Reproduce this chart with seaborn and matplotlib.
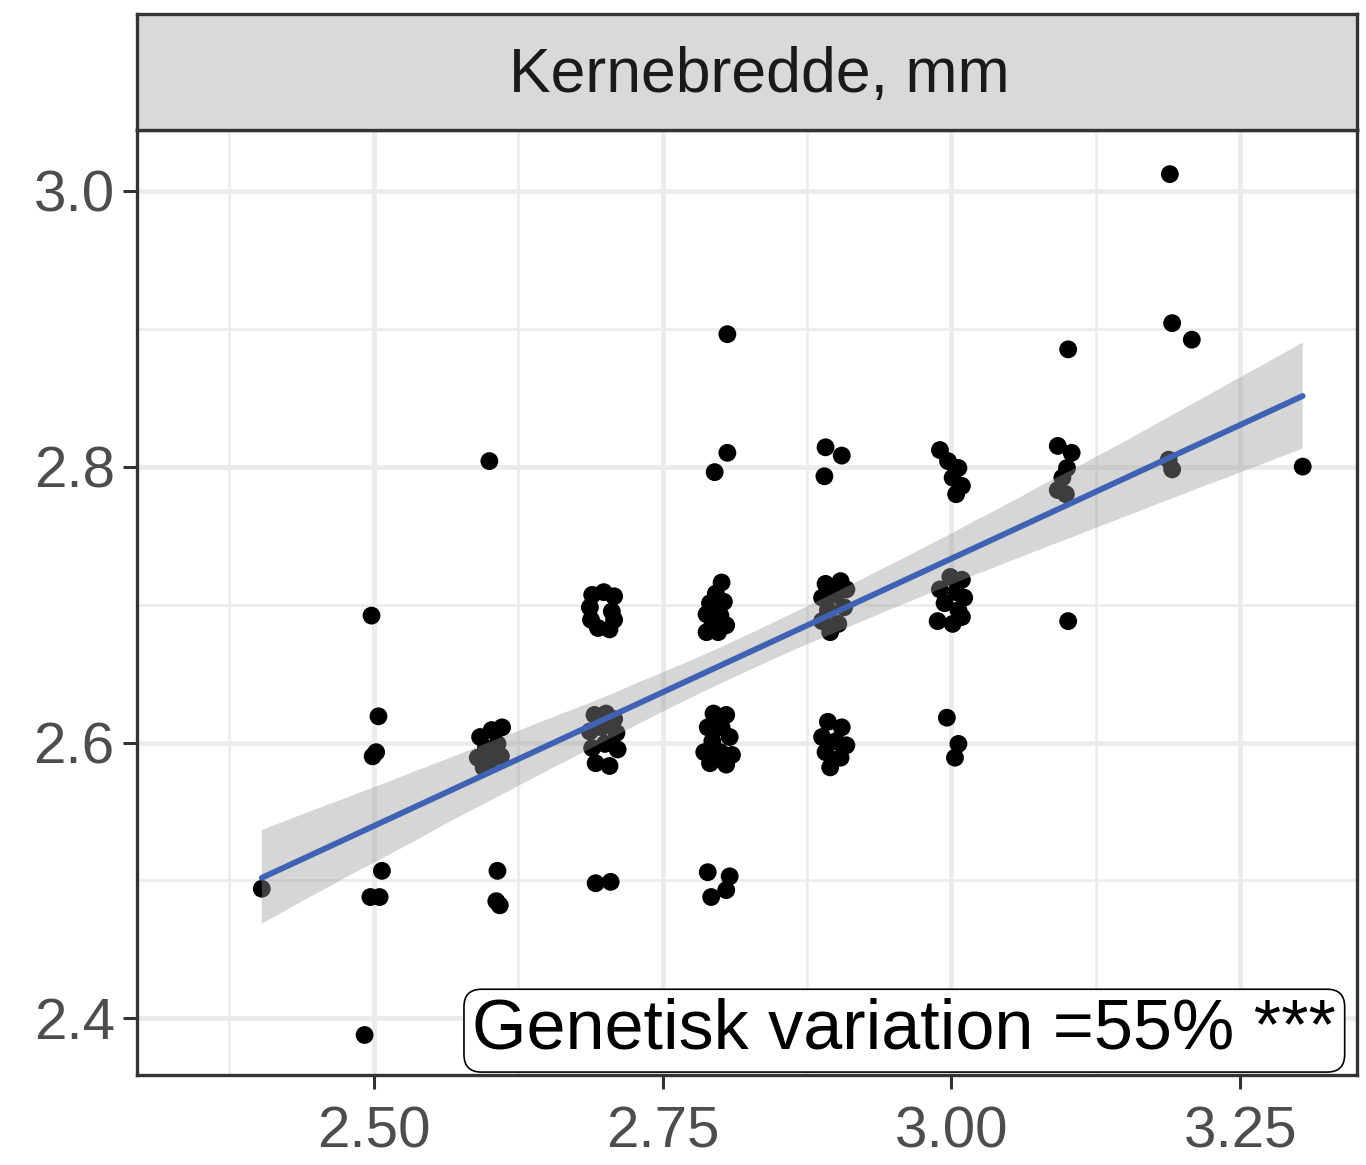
import numpy as np
import pandas as pd
import seaborn as sns
import matplotlib.pyplot as plt

sns.set_theme(style="white")
plt.rcParams['font.family'] = ['Liberation Sans', 'DejaVu Sans']

x_2_4 = [2.403]
y_2_4 = [2.494]

x_2_5 = [2.498, 2.504, 2.502, 2.499, 2.507, 2.497, 2.505, 2.492]
y_2_5 = [2.692, 2.619, 2.593, 2.590, 2.507, 2.488, 2.488, 2.388]

x_2_6 = [2.600, 2.592, 2.602, 2.611, 2.597, 2.607, 2.590, 2.600, 2.610, 2.595,
         2.607, 2.606, 2.609]
y_2_6 = [2.804, 2.604, 2.609, 2.611, 2.596, 2.599, 2.589, 2.586, 2.590, 2.582,
         2.507, 2.485, 2.482]

x_2_7 = [2.689, 2.699, 2.708, 2.687, 2.706, 2.688, 2.694, 2.704, 2.708,
         2.691, 2.701, 2.708, 2.687, 2.697, 2.710, 2.689, 2.700, 2.711, 2.692, 2.704,
         2.692, 2.705]
y_2_7 = [2.707, 2.709, 2.706, 2.698, 2.695, 2.689, 2.683, 2.682, 2.689,
         2.620, 2.621, 2.617, 2.608, 2.611, 2.607, 2.596, 2.599, 2.595, 2.585, 2.583,
         2.498, 2.499]

x_2_8 = [2.806, 2.806, 2.795,
         2.801, 2.796, 2.791, 2.803, 2.788, 2.800, 2.793, 2.805, 2.788, 2.798,
         2.794, 2.805, 2.789, 2.801, 2.808, 2.793, 2.786, 2.800, 2.810, 2.791, 2.805,
         2.789, 2.808, 2.792, 2.805]
y_2_8 = [2.896, 2.810, 2.796,
         2.716, 2.708, 2.701, 2.702, 2.693, 2.692, 2.685, 2.685, 2.680, 2.680,
         2.621, 2.620, 2.611, 2.611, 2.604, 2.601, 2.593, 2.593, 2.591, 2.585, 2.584,
         2.506, 2.503, 2.488, 2.493]

x_2_9 = [2.891, 2.905, 2.890,
         2.891, 2.904, 2.909, 2.888, 2.900, 2.893, 2.907, 2.888, 2.902, 2.895,
         2.893, 2.905, 2.888, 2.900, 2.909, 2.891, 2.904, 2.895]
y_2_9 = [2.814, 2.808, 2.793,
         2.715, 2.717, 2.711, 2.705, 2.707, 2.696, 2.698, 2.688, 2.686, 2.680,
         2.615, 2.611, 2.604, 2.601, 2.598, 2.593, 2.589, 2.582]

x_3_0 = [2.990, 2.997, 3.006, 3.001, 3.009, 3.004,
         2.999, 3.009, 2.990, 3.004, 3.011, 2.994, 3.006, 2.988, 3.001, 3.009,
         2.996, 3.006, 3.003]
y_3_0 = [2.812, 2.804, 2.799, 2.792, 2.786, 2.780,
         2.720, 2.718, 2.711, 2.709, 2.705, 2.701, 2.696, 2.688, 2.686, 2.691,
         2.618, 2.599, 2.589]

x_3_1 = [3.101, 3.092, 3.104, 3.100, 3.096, 3.092, 3.099, 3.101]
y_3_1 = [2.885, 2.815, 2.810, 2.799, 2.792, 2.783, 2.780, 2.688]

x_3_2 = [3.189, 3.191, 3.208, 3.188, 3.191]
y_3_2 = [3.012, 2.904, 2.892, 2.805, 2.798]

x_3_3 = [3.304]
y_3_3 = [2.800]

strip_title = "Kernebredde, mm"
label_text = "Genetisk variation =55% ***"
x_ticks = [2.50, 2.75, 3.00, 3.25]
x_tick_labels = ["2.50", "2.75", "3.00", "3.25"]
y_ticks = [2.4, 2.6, 2.8, 3.0]
y_tick_labels = ["2.4", "2.6", "2.8", "3.0"]

xs = x_2_4 + x_2_5 + x_2_6 + x_2_7 + x_2_8 + x_2_9 + x_3_0 + x_3_1 + x_3_2 + x_3_3
ys = y_2_4 + y_2_5 + y_2_6 + y_2_7 + y_2_8 + y_2_9 + y_3_0 + y_3_1 + y_3_2 + y_3_3
df = pd.DataFrame({"x": xs, "y": ys})

W, H = 1366, 1165
fig = plt.figure(figsize=(W / 100, H / 100), dpi=100)
ax = fig.add_axes([137 / W, 1 - 1075 / H, 1220 / W, 945 / H])
strip = fig.add_axes([137 / W, 1 - 130 / H, 1220 / W, 116 / H])

# points first, smoother + band on top (ggplot order)
sns.scatterplot(data=df, x="x", y="y", color="black", s=165, edgecolor="none",
                ax=ax, zorder=2, legend=False)
sns.regplot(data=df, x="x", y="y", scatter=False, ax=ax, seed=3, n_boot=2000,
            color="#3f62b5", line_kws=dict(color="#3f62b5", lw=4.2, zorder=4))
band = ax.collections[-1]
band.set_facecolor("#999999")
band.set_alpha(0.4)
band.set_edgecolor("none")
band.set_zorder(3)

ax.set_xlim(2.295, 3.351)
ax.set_ylim(2.359, 3.044)
ax.set_xticks(x_ticks)
ax.set_xticklabels(x_tick_labels)
ax.set_yticks(y_ticks)
ax.set_yticklabels(y_tick_labels)
ax.set_xticks([2.375, 2.625, 2.875, 3.125], minor=True)
ax.set_yticks([2.5, 2.7, 2.9], minor=True)
ax.set_axisbelow(True)
ax.grid(which="major", color="#EBEBEB", lw=3.4)
ax.grid(which="minor", color="#EBEBEB", lw=1.8)
ax.tick_params(which="major", length=10, width=2.2, color="#333333",
               labelsize=42, labelcolor="#4D4D4D", bottom=True, left=True)
ax.tick_params(axis="x", pad=12)
ax.tick_params(axis="y", pad=6)
ax.tick_params(which="minor", length=0)
ax.set_xlabel("")
ax.set_ylabel("")
for s in ax.spines.values():
    s.set_color("#333333")
    s.set_linewidth(2.4)

ax.text(0.983, 0.012, label_text, transform=ax.transAxes, ha="right", va="bottom",
        fontsize=50.5, color="black", zorder=6,
        bbox=dict(boxstyle="round,pad=0.12,rounding_size=0.25", fc="white",
                  ec="black", lw=1.2))

strip.set_facecolor("#D9D9D9")
strip.set_xticks([])
strip.set_yticks([])
for s in strip.spines.values():
    s.set_color("#333333")
    s.set_linewidth(2.4)
strip.text(0.51, 0.47, strip_title, transform=strip.transAxes, ha="center",
           va="center", fontsize=45, color="#1A1A1A")

fig.savefig("out.png", dpi=100)
